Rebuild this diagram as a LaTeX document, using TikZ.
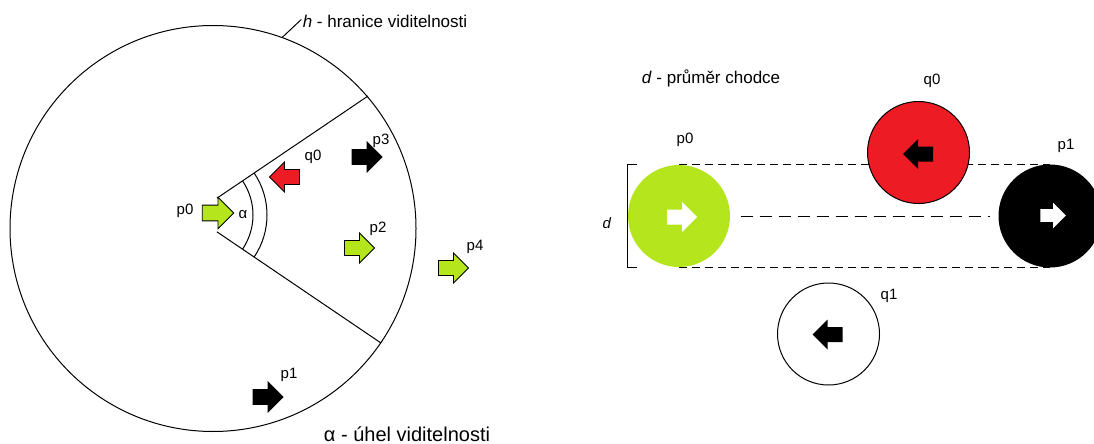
\documentclass[tikz,border=0pt]{standalone}
\usepackage{fontspec}
\setmainfont{Liberation Sans}
\usetikzlibrary{backgrounds}
\definecolor{pgreen}{HTML}{B5E61D}
\definecolor{pred}{HTML}{ED1C24}
\begin{document}
\begin{tikzpicture}[x=1pt,y=-1pt,line width=1pt,
  lbl/.style={font=\fontsize{15}{17}\selectfont, inner sep=0pt},
  desc/.style={font=\fontsize{17}{19}\selectfont, inner sep=0pt},
  big/.style={font=\fontsize{20}{22}\selectfont, inner sep=0pt},
  blk/.pic={\path[pic actions] (-15,-7.5) -- (0,-7.5) -- (0,-15) -- (15,0) -- (0,15) -- (0,7.5) -- (-15,7.5) -- cycle;},
  walker/.style={circle, minimum size=102pt, inner sep=0pt},
  arr/.style={draw=black, line width=0.8pt, line join=miter},
  shortdash/.style={dash pattern=on 8pt off 5pt},
  longdash/.style={dash pattern=on 12pt off 7pt}
]
\useasboundingbox (0,0) rectangle (1094,444);

% ---------- left part ----------
\draw (213,228.5) circle[radius=203];
\coordinate (apex) at (192,215);
\draw (apex) ++(-34:30) -- (368,96);
\draw (apex) ++(34:30) -- (381,343);
\draw (apex) ++(-34:61) arc[start angle=-34, end angle=34, radius=61];
\draw (apex) ++(-34:75) arc[start angle=-34, end angle=34, radius=75];

\node[desc] (h) at (385,21.5) {\textit{h} - hranice viditelnosti};
\coordinate (hp) at (282,37.6);
\draw (hp) -- ([xshift=-1pt,yshift=2pt]h.west);

\pic[arr, fill=pgreen, scale=1.05] at (218,213) {blk};
\pic[arr, fill=pred, rotate=180] at (284.5,177) {blk};
\pic[arr, fill=black] at (367,157) {blk};
\pic[arr, fill=pgreen] at (359.5,248) {blk};
\pic[arr, fill=pgreen] at (453.5,268) {blk};
\pic[arr, fill=black] at (268,397) {blk};

\node[lbl] (lp0) at (185,211) {p0};
\node[lbl] (lal) at (243,215) {α};
\node[lbl] (lq0) at (313,157) {q0};
\node[lbl] (lp3) at (381,141) {p3};
\node[lbl] (lp2) at (378,229) {p2};
\node[lbl] (lp4) at (475,247) {p4};
\node[lbl] (lp1) at (289,375) {p1};
\node[big] (alpha) at (407,434) {α - úhel viditelnosti};

% ---------- right part ----------
\node[desc] (d) at (711,78) {\textit{d} - průměr chodce};
\node[walker, fill=pgreen] (wp0) at (679,216) {};
\node[walker, fill=pred, draw=black] (wq0) at (918.5,152.5) {};
\node[walker, fill=black, draw=black] (wp1) at (1050,216) {};
\node[walker, fill=white, draw=black] (wq1) at (828.5,334) {};

\begin{scope}[on background layer]
\draw[shortdash] (wp0.north) -- (wp1.north);
\draw[shortdash] (wp0.south) -- (wp1.south);
\draw[longdash, shorten <=10pt, shorten >=9pt] (wp0.east) -- (wp1.west);
\end{scope}
\draw[line width=1.3pt] ([xshift=9pt]wp0.west |- wp0.north) -- (wp0.west |- wp0.north) -- (wp0.west |- wp0.south) -- ([xshift=9pt]wp0.west |- wp0.south);

\pic[fill=white] at (682,217) {blk};
\pic[fill=black, rotate=180] at (918,154) {blk};
\pic[fill=white, scale=0.85] at (1053,215.5) {blk};
\pic[fill=black, rotate=180] at (827.5,334.5) {blk};

\node[lbl] (rp0) at (685,140) {p0};
\node[lbl] (rq0) at (932,81) {q0};
\node[lbl] (rp1) at (1066,146) {p1};
\node[lbl] (rq1) at (889,296) {q1};
\node[lbl] (ld) at (607,223) {\textit{d}};
\end{tikzpicture}
\end{document}
